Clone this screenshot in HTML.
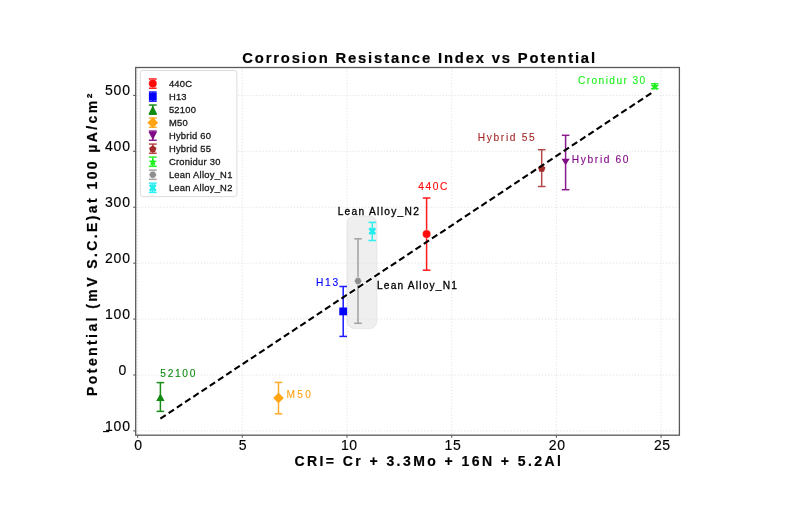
<!DOCTYPE html>
<html><head><meta charset="utf-8">
<style>
html,body{margin:0;padding:0;background:#fff;width:800px;height:518px;overflow:hidden}
svg{display:block;will-change:transform}
text{font-family:"Liberation Sans",sans-serif}
</style></head>
<body>
<svg width="800" height="518" viewBox="0 0 800 518">
<rect x="0" y="0" width="800" height="518" fill="#fff"/>
<defs><clipPath id="cp"><rect x="347.2" y="216" width="29.6" height="112.6" rx="7.5" ry="7.5"/></clipPath></defs>
<rect x="347.2" y="216" width="29.6" height="112.6" rx="7.5" ry="7.5" fill="#efefef" stroke="#e0e0e0" stroke-width="0.7"/>
<g stroke="#e2e2e2" stroke-width="0.9" stroke-dasharray="1.3,1.8" fill="none">
<line x1="137.60" y1="67.5" x2="137.60" y2="435.2"/>
<line x1="242.30" y1="67.5" x2="242.30" y2="435.2"/>
<line x1="347.00" y1="67.5" x2="347.00" y2="435.2"/>
<line x1="451.70" y1="67.5" x2="451.70" y2="435.2"/>
<line x1="556.40" y1="67.5" x2="556.40" y2="435.2"/>
<line x1="661.10" y1="67.5" x2="661.10" y2="435.2"/>
<line x1="135.7" y1="430.90" x2="679.4" y2="430.90"/>
<line x1="135.7" y1="374.98" x2="679.4" y2="374.98"/>
<line x1="135.7" y1="319.06" x2="679.4" y2="319.06"/>
<line x1="135.7" y1="263.15" x2="679.4" y2="263.15"/>
<line x1="135.7" y1="207.23" x2="679.4" y2="207.23"/>
<line x1="135.7" y1="151.31" x2="679.4" y2="151.31"/>
<line x1="135.7" y1="95.40" x2="679.4" y2="95.40"/>
</g>
<line clip-path="url(#cp)" x1="160.4" y1="418.6" x2="652.6" y2="92.2" stroke="#fff" stroke-width="4" stroke-dasharray="7.6,2.275" stroke-dashoffset="0.6"/>
<g stroke="#ff1a1a" stroke-width="1.5" fill="none"><line x1="426.6" y1="198.0" x2="426.6" y2="270.2"/><line x1="422.80" y1="198.0" x2="430.40" y2="198.0"/><line x1="422.80" y1="270.2" x2="430.40" y2="270.2"/></g>
<g stroke="#1a1aff" stroke-width="1.5" fill="none"><line x1="343.2" y1="286.5" x2="343.2" y2="336.4"/><line x1="339.40" y1="286.5" x2="347.00" y2="286.5"/><line x1="339.40" y1="336.4" x2="347.00" y2="336.4"/></g>
<g stroke="#1a8c1a" stroke-width="1.5" fill="none"><line x1="160.4" y1="382.6" x2="160.4" y2="411.4"/><line x1="156.60" y1="382.6" x2="164.20" y2="382.6"/><line x1="156.60" y1="411.4" x2="164.20" y2="411.4"/></g>
<g stroke="#ffab2a" stroke-width="1.5" fill="none"><line x1="278.5" y1="382.4" x2="278.5" y2="413.8"/><line x1="274.70" y1="382.4" x2="282.30" y2="382.4"/><line x1="274.70" y1="413.8" x2="282.30" y2="413.8"/></g>
<g stroke="#8a1a8f" stroke-width="1.5" fill="none"><line x1="565.6" y1="135.3" x2="565.6" y2="189.7"/><line x1="561.80" y1="135.3" x2="569.40" y2="135.3"/><line x1="561.80" y1="189.7" x2="569.40" y2="189.7"/></g>
<g stroke="#b54848" stroke-width="1.5" fill="none"><line x1="541.7" y1="149.7" x2="541.7" y2="186.5"/><line x1="537.90" y1="149.7" x2="545.50" y2="149.7"/><line x1="537.90" y1="186.5" x2="545.50" y2="186.5"/></g>
<g stroke="#2af02a" stroke-width="1.5" fill="none"><line x1="654.8" y1="83.8" x2="654.8" y2="88.6"/><line x1="651.00" y1="83.8" x2="658.60" y2="83.8"/><line x1="651.00" y1="88.6" x2="658.60" y2="88.6"/></g>
<g stroke="#a2a2a2" stroke-width="1.5" fill="none"><line x1="358.0" y1="238.8" x2="358.0" y2="323.3"/><line x1="354.20" y1="238.8" x2="361.80" y2="238.8"/><line x1="354.20" y1="323.3" x2="361.80" y2="323.3"/></g>
<g stroke="#33eeee" stroke-width="1.5" fill="none"><line x1="372.3" y1="222.4" x2="372.3" y2="240.5"/><line x1="368.50" y1="222.4" x2="376.10" y2="222.4"/><line x1="368.50" y1="240.5" x2="376.10" y2="240.5"/></g>
<circle cx="426.6" cy="234.1" r="4.05" fill="#ff0a0a" stroke="#fff" stroke-width="0.4" stroke-opacity="0.6"/>
<rect x="339.30" y="307.50" width="7.80" height="7.80" fill="#0000ff"/>
<polygon points="160.40,393.60 164.60,400.90 156.20,400.90" fill="#118a11"/>
<polygon points="278.50,392.70 283.90,398.00 278.50,403.30 273.10,398.00" fill="#ffa514"/>
<polygon points="561.50,158.70 569.70,158.70 565.60,165.20" fill="#800a86"/>
<polygon points="541.70,164.80 545.41,167.49 543.99,171.86 539.41,171.86 537.99,167.49" fill="#a52a2a"/>
<polygon points="654.80,82.20 655.98,84.98 658.98,85.24 656.70,87.22 657.39,90.16 654.80,88.60 652.21,90.16 652.90,87.22 650.62,85.24 653.62,84.98" fill="#1ef01e"/>
<polygon points="361.90,281.00 359.95,284.38 356.05,284.38 354.10,281.00 356.05,277.62 359.95,277.62" fill="#8e8e8e" stroke="#fff" stroke-width="0.7" stroke-opacity="0.8"/>
<polygon points="374.25,227.30 376.20,229.25 374.25,231.20 376.20,233.15 374.25,235.10 372.30,233.15 370.35,235.10 368.40,233.15 370.35,231.20 368.40,229.25 370.35,227.30 372.30,229.25" fill="#22eeee"/>
<line x1="160.4" y1="418.6" x2="652.6" y2="92.2" stroke="#000" stroke-width="2.1" stroke-dasharray="6.4,3.475"/>
<rect x="135.7" y="67.5" width="543.70" height="367.70" fill="none" stroke="#5a5a5a" stroke-width="1.3"/>
<g stroke="#5a5a5a" stroke-width="1.1">
<line x1="137.60" y1="435.2" x2="137.60" y2="437.8"/>
<line x1="242.30" y1="435.2" x2="242.30" y2="437.8"/>
<line x1="347.00" y1="435.2" x2="347.00" y2="437.8"/>
<line x1="451.70" y1="435.2" x2="451.70" y2="437.8"/>
<line x1="556.40" y1="435.2" x2="556.40" y2="437.8"/>
<line x1="661.10" y1="435.2" x2="661.10" y2="437.8"/>
<line x1="133.2" y1="430.90" x2="135.7" y2="430.90"/>
<line x1="133.2" y1="374.98" x2="135.7" y2="374.98"/>
<line x1="133.2" y1="319.06" x2="135.7" y2="319.06"/>
<line x1="133.2" y1="263.15" x2="135.7" y2="263.15"/>
<line x1="133.2" y1="207.23" x2="135.7" y2="207.23"/>
<line x1="133.2" y1="151.31" x2="135.7" y2="151.31"/>
<line x1="133.2" y1="95.40" x2="135.7" y2="95.40"/>
</g>
<g font-size="14" fill="#000" stroke="#000" stroke-width="0.15" letter-spacing="0.5">
<text x="134.35" y="450.35">0</text>
<text x="238.85" y="450.35">5</text>
<text x="340.90" y="450.35">10</text>
<text x="444.60" y="450.35">15</text>
<text x="548.85" y="450.35">20</text>
<text x="654.05" y="450.35">25</text>
</g>
<g font-size="14" fill="#000" stroke="#000" stroke-width="0.15" letter-spacing="0.8">
<text x="105.0" y="430.50">100</text>
<text x="118.4" y="374.68" letter-spacing="0">0</text>
<text x="105.0" y="318.66">100</text>
<text x="105.0" y="262.75">200</text>
<text x="105.0" y="206.83">300</text>
<text x="105.0" y="150.91">400</text>
<text x="105.0" y="95.00">500</text>
</g>
<line x1="103" y1="431.6" x2="109.2" y2="431.6" stroke="#000" stroke-width="1.1"/>
<text x="242.25" y="62.5" font-size="14.8" font-weight="bold" fill="#000" stroke="#000" stroke-width="0.2" letter-spacing="1.84">Corrosion Resistance Index vs Potential</text>
<text x="294.4" y="465.9" font-size="14" font-weight="bold" fill="#000" stroke="#000" stroke-width="0.2" letter-spacing="2.43">CRI= Cr + 3.3Mo + 16N + 5.2Al</text>
<text transform="translate(96.6,395.9) rotate(-90)" font-size="14" font-weight="bold" fill="#000" stroke="#000" stroke-width="0.2" letter-spacing="2.41">Potential (mV S.C.E)at 100 µA/cm²</text>
<text x="160.29" y="376.9" font-size="10.2" fill="#118a11" stroke="#118a11" stroke-width="0.12" letter-spacing="1.690">52100</text>
<text x="286.44" y="397.8" font-size="10.2" fill="#ffa514" stroke="#ffa514" stroke-width="0.12" letter-spacing="2.292">M50</text>
<text x="315.94" y="285.5" font-size="10.2" fill="#0000ff" stroke="#0000ff" stroke-width="0.12" letter-spacing="1.753">H13</text>
<text x="337.63" y="214.6" font-size="10.2" fill="#000" stroke="#000" stroke-width="0.3" letter-spacing="1.290">Lean Alloy_N2</text>
<text x="376.99" y="288.75" font-size="10.2" fill="#000" stroke="#000" stroke-width="0.3" letter-spacing="1.186">Lean Alloy_N1</text>
<text x="418.14" y="190.2" font-size="10.2" fill="#ff0a0a" stroke="#ff0a0a" stroke-width="0.12" letter-spacing="1.595">440C</text>
<text x="477.74" y="141.2" font-size="10.2" fill="#a52a2a" stroke="#a52a2a" stroke-width="0.12" letter-spacing="1.664">Hybrid 55</text>
<text x="571.84" y="162.5" font-size="10.2" fill="#800a86" stroke="#800a86" stroke-width="0.12" letter-spacing="1.639">Hybrid 60</text>
<text x="577.99" y="83.8" font-size="10.2" fill="#1ef01e" stroke="#1ef01e" stroke-width="0.12" letter-spacing="1.397">Cronidur 30</text>
<rect x="140.3" y="70.5" width="96.6" height="126.1" rx="2.5" ry="2.5" fill="#fff" fill-opacity="0.9" stroke="#d8d8d8" stroke-width="0.9"/>
<g stroke="#ff1a1a" stroke-width="1.5" fill="none"><line x1="152.8" y1="79.00" x2="152.8" y2="88.20"/><line x1="148.90" y1="79.00" x2="156.70" y2="79.00"/><line x1="148.90" y1="88.20" x2="156.70" y2="88.20"/></g>
<circle cx="152.8" cy="83.6" r="4.05" fill="#ff0a0a" stroke="#fff" stroke-width="0.4" stroke-opacity="0.6"/>
<g stroke="#1a1aff" stroke-width="1.5" fill="none"><line x1="152.8" y1="92.02" x2="152.8" y2="101.22"/><line x1="148.90" y1="92.02" x2="156.70" y2="92.02"/><line x1="148.90" y1="101.22" x2="156.70" y2="101.22"/></g>
<rect x="148.90" y="92.72" width="7.80" height="7.80" fill="#0000ff"/>
<g stroke="#1a8c1a" stroke-width="1.5" fill="none"><line x1="152.8" y1="105.04" x2="152.8" y2="114.24"/><line x1="148.90" y1="105.04" x2="156.70" y2="105.04"/><line x1="148.90" y1="114.24" x2="156.70" y2="114.24"/></g>
<polygon points="152.80,105.44 157.10,113.94 148.50,113.94" fill="#118a11"/>
<g stroke="#ffab2a" stroke-width="1.5" fill="none"><line x1="152.8" y1="118.06" x2="152.8" y2="127.26"/><line x1="148.90" y1="118.06" x2="156.70" y2="118.06"/><line x1="148.90" y1="127.26" x2="156.70" y2="127.26"/></g>
<polygon points="152.80,117.36 158.20,122.66 152.80,127.96 147.40,122.66" fill="#ffa514"/>
<g stroke="#8a1a8f" stroke-width="1.5" fill="none"><line x1="152.8" y1="131.08" x2="152.8" y2="140.28"/><line x1="148.90" y1="131.08" x2="156.70" y2="131.08"/><line x1="148.90" y1="140.28" x2="156.70" y2="140.28"/></g>
<polygon points="148.50,131.68 157.10,131.68 152.80,139.88" fill="#800a86"/>
<g stroke="#b54848" stroke-width="1.5" fill="none"><line x1="152.8" y1="144.10" x2="152.8" y2="153.30"/><line x1="148.90" y1="144.10" x2="156.70" y2="144.10"/><line x1="148.90" y1="153.30" x2="156.70" y2="153.30"/></g>
<polygon points="152.80,145.20 156.51,147.89 155.09,152.26 150.51,152.26 149.09,147.89" fill="#a52a2a"/>
<g stroke="#2af02a" stroke-width="1.5" fill="none"><line x1="152.8" y1="157.12" x2="152.8" y2="166.32"/><line x1="148.90" y1="157.12" x2="156.70" y2="157.12"/><line x1="148.90" y1="166.32" x2="156.70" y2="166.32"/></g>
<polygon points="152.80,157.82 153.98,160.60 156.98,160.86 154.70,162.84 155.39,165.78 152.80,164.22 150.21,165.78 150.90,162.84 148.62,160.86 151.62,160.60" fill="#1ef01e"/>
<g stroke="#a2a2a2" stroke-width="1.5" fill="none"><line x1="152.8" y1="170.14" x2="152.8" y2="179.34"/><line x1="148.90" y1="170.14" x2="156.70" y2="170.14"/><line x1="148.90" y1="179.34" x2="156.70" y2="179.34"/></g>
<polygon points="156.70,174.74 154.75,178.12 150.85,178.12 148.90,174.74 150.85,171.36 154.75,171.36" fill="#8e8e8e" stroke="#fff" stroke-width="0.7" stroke-opacity="0.8"/>
<g stroke="#33eeee" stroke-width="1.5" fill="none"><line x1="152.8" y1="183.16" x2="152.8" y2="192.36"/><line x1="148.90" y1="183.16" x2="156.70" y2="183.16"/><line x1="148.90" y1="192.36" x2="156.70" y2="192.36"/></g>
<polygon points="154.75,183.86 156.70,185.81 154.75,187.76 156.70,189.71 154.75,191.66 152.80,189.71 150.85,191.66 148.90,189.71 150.85,187.76 148.90,185.81 150.85,183.86 152.80,185.81" fill="#22eeee"/>
<g font-size="9.4" fill="#1a1a1a" stroke="#1a1a1a" stroke-width="0.3">
<text x="168.9" y="86.80" letter-spacing="0.25">440C</text>
<text x="168.9" y="99.82" letter-spacing="0.25">H13</text>
<text x="168.9" y="112.84" letter-spacing="0.25">52100</text>
<text x="168.9" y="125.86" letter-spacing="0.25">M50</text>
<text x="168.9" y="138.88" letter-spacing="0.25">Hybrid 60</text>
<text x="168.9" y="151.90" letter-spacing="0.25">Hybrid 55</text>
<text x="168.9" y="164.92" letter-spacing="0.25">Cronidur 30</text>
<text x="168.9" y="177.94" letter-spacing="0.25">Lean Alloy_N1</text>
<text x="168.9" y="190.96" letter-spacing="0.25">Lean Alloy_N2</text>
</g>
</svg>
</body></html>
